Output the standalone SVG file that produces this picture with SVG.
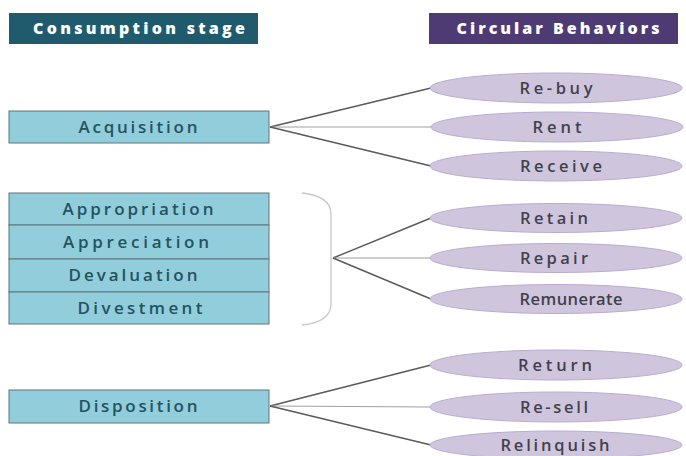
<svg xmlns="http://www.w3.org/2000/svg" width="686" height="456" viewBox="0 0 686 456">
<style>
.hdr{font-family:"Open Sans","DejaVu Sans",sans-serif;font-weight:800;font-size:16px;fill:#ffffff;text-anchor:middle}
.box{fill:#92cddb;stroke:#5f7479;stroke-width:1}
.bt{font-family:"Open Sans","DejaVu Sans",sans-serif;font-weight:600;font-size:17px;fill:#24535f;text-anchor:middle}
.ell{fill:#cfc6de;stroke:#b9acd0;stroke-width:1}
.et{font-family:"Open Sans","DejaVu Sans",sans-serif;font-weight:600;font-size:16.5px;fill:#41414b;text-anchor:middle}
.ln{stroke:#5a5a5a;stroke-width:1.4;fill:none}
.lh{stroke:#a0a0a0;stroke-width:1.2;fill:none}
</style>
<rect width="686" height="456" fill="#ffffff"/>
<g id="header-stage">
<rect x="9" y="13" width="249" height="31" fill="#1f5b6c"/>
<text class="hdr" x="139" y="34" textLength="212" lengthAdjust="spacing">Consumption stage</text>
</g>
<g id="header-behaviors">
<rect x="429" y="13" width="249" height="31" fill="#4e3b74"/>
<text class="hdr" x="558" y="34" textLength="203" lengthAdjust="spacing">Circular Behaviors</text>
</g>
<g id="acquisition">
<rect class="box" x="9" y="111" width="260" height="32"/>
<text class="bt" x="138" y="133" textLength="119" lengthAdjust="spacing">Acquisition</text>
</g>
<g id="middle-stages">
<rect class="box" x="9" y="193" width="260" height="32"/>
<text class="bt" x="138" y="215" textLength="151" lengthAdjust="spacing">Appropriation</text>
<rect class="box" x="9" y="225" width="260" height="34"/>
<text class="bt" x="136" y="248" textLength="146" lengthAdjust="spacing">Appreciation</text>
<rect class="box" x="9" y="259" width="260" height="33"/>
<text class="bt" x="133" y="281" textLength="129" lengthAdjust="spacing">Devaluation</text>
<rect class="box" x="9" y="292" width="260" height="32"/>
<text class="bt" x="140" y="314" textLength="125" lengthAdjust="spacing">Divestment</text>
</g>
<g id="disposition">
<rect class="box" x="9" y="390" width="260" height="33"/>
<text class="bt" x="138" y="412" textLength="119" lengthAdjust="spacing">Disposition</text>
</g>
<g id="brace">
<path d="M302,193 Q331,196 331,214 L331,304 Q331,322 302,325" fill="none" stroke="#c8c8c8" stroke-width="1.3"/>
</g>
<g id="connectors">
<line class="ln" x1="270" y1="127" x2="431" y2="88"/>
<line class="lh" x1="270" y1="127" x2="431" y2="127"/>
<line class="ln" x1="270" y1="127" x2="431" y2="166"/>
<line class="ln" x1="333" y1="258" x2="431" y2="218"/>
<line class="lh" x1="333" y1="258" x2="431" y2="258"/>
<line class="ln" x1="333" y1="258" x2="431" y2="299"/>
<line class="ln" x1="270" y1="406" x2="431" y2="365"/>
<line class="lh" x1="270" y1="406" x2="431" y2="407"/>
<line class="ln" x1="270" y1="406" x2="431" y2="445"/>
</g>
<g id="rebuy"><ellipse class="ell" cx="556" cy="88" rx="126" ry="15"/><text class="et" x="556" y="94" textLength="73" lengthAdjust="spacing">Re-buy</text></g>
<g id="rent"><ellipse class="ell" cx="557" cy="127" rx="126" ry="15"/><text class="et" x="557" y="133" textLength="49" lengthAdjust="spacing">Rent</text></g>
<g id="receive"><ellipse class="ell" cx="556" cy="166" rx="126" ry="15"/><text class="et" x="561" y="172" textLength="82" lengthAdjust="spacing">Receive</text></g>
<g id="retain"><ellipse class="ell" cx="556" cy="218" rx="126" ry="14.5"/><text class="et" x="554" y="224" textLength="68" lengthAdjust="spacing">Retain</text></g>
<g id="repair"><ellipse class="ell" cx="556" cy="258" rx="126" ry="14.5"/><text class="et" x="554" y="264" textLength="68" lengthAdjust="spacing">Repair</text></g>
<g id="remunerate"><ellipse class="ell" cx="556" cy="299" rx="126" ry="14.5"/><text class="et" x="571" y="305" textLength="103" lengthAdjust="spacing">Remunerate</text></g>
<g id="return"><ellipse class="ell" cx="556" cy="365" rx="126" ry="15"/><text class="et" x="555" y="371" textLength="74" lengthAdjust="spacing">Return</text></g>
<g id="resell"><ellipse class="ell" cx="556" cy="407" rx="126" ry="15"/><text class="et" x="554" y="413" textLength="68" lengthAdjust="spacing">Re-sell</text></g>
<g id="relinquish"><ellipse class="ell" cx="556" cy="445" rx="126" ry="14"/><text class="et" x="555" y="451" textLength="109" lengthAdjust="spacing">Relinquish</text></g>
</svg>
